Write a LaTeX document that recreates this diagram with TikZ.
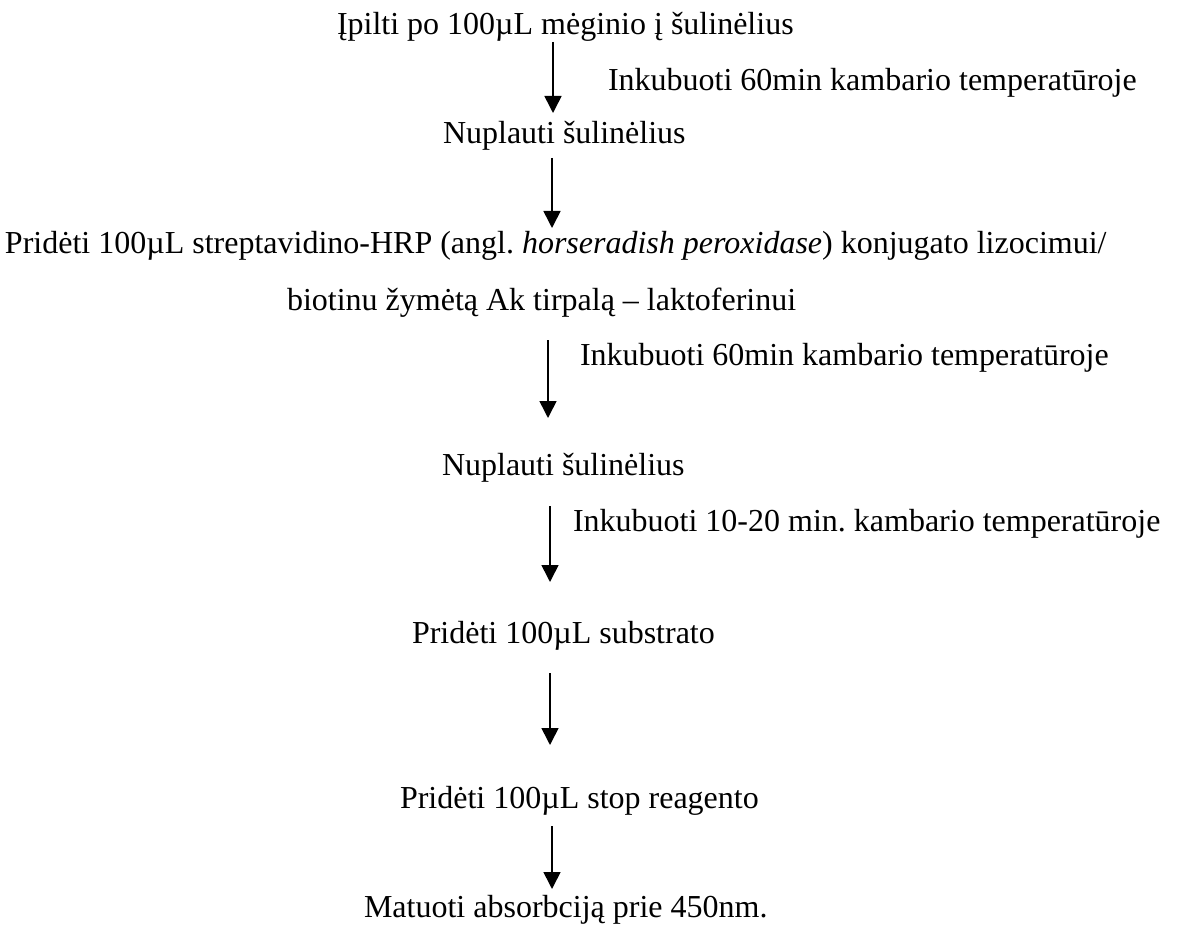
\documentclass[tikz,border=0pt]{standalone}
\usepackage{fontspec}
\setmainfont{Liberation Serif}
\usetikzlibrary{arrows.meta}
\frenchspacing
\tikzset{
  txt/.style={anchor=base west, inner sep=0pt, outer sep=0pt, font=\fontsize{32}{38}\selectfont},
  flow/.style={line width=1.6pt, -{Triangle[length=17pt,width=17pt]}}
}
\begin{document}
\begin{tikzpicture}[x=1pt,y=-1pt]
\useasboundingbox (0,0) rectangle (1180,925);
\node[txt] (s1) at (337,35) {Įpilti po 100µL mėginio į šulinėlius};
\node[txt] (i1) at (608,91) {Inkubuoti 60min kambario temperatūroje};
\node[txt] (s2) at (443,144) {Nuplauti šulinėlius};
\node[txt] (s3a) at (5,254) {Pridėti 100µL streptavidino-HRP (angl. \textit{horseradish peroxidase}) konjugato lizocimui/};
\node[txt] (s3b) at (287,310) {biotinu žymėtą Ak tirpalą – laktoferinui};
\node[txt] (i2) at (580,365) {Inkubuoti 60min kambario temperatūroje};
\node[txt] (s4) at (442,475) {Nuplauti šulinėlius};
\node[txt] (i3) at (573,531) {Inkubuoti 10-20 min. kambario temperatūroje};
\node[txt] (s5) at (412,643) {Pridėti 100µL substrato};
\node[txt] (s6) at (400,808) {Pridėti 100µL stop reagento};
\node[txt] (s7) at (364,917) {Matuoti absorbciją prie 450nm.};

\coordinate (a1s) at (553,42);  \coordinate (a1e) at (553,113);
\coordinate (a2s) at (552,158); \coordinate (a2e) at (552,228);
\coordinate (a3s) at (548,340); \coordinate (a3e) at (548,418);
\coordinate (a4s) at (550,506); \coordinate (a4e) at (550,582);
\coordinate (a5s) at (550,673); \coordinate (a5e) at (550,745);
\coordinate (a6s) at (552,826); \coordinate (a6e) at (552,889);
\draw[flow] (a1s) -- (a1e);
\draw[flow] (a2s) -- (a2e);
\draw[flow] (a3s) -- (a3e);
\draw[flow] (a4s) -- (a4e);
\draw[flow] (a5s) -- (a5e);
\draw[flow] (a6s) -- (a6e);
\end{tikzpicture}
\end{document}
